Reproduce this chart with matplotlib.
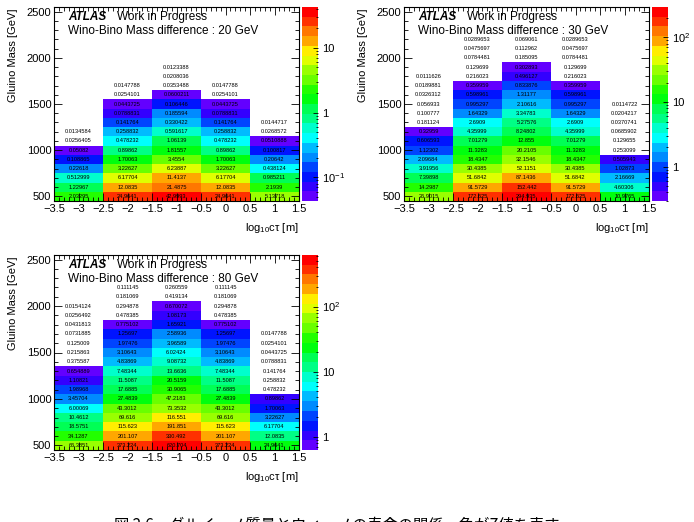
import colorsys
import numpy as np
import matplotlib
matplotlib.use('Agg')
import matplotlib.pyplot as plt
from matplotlib.colors import ListedColormap, LogNorm
from matplotlib.ticker import MultipleLocator, LogLocator, FuncFormatter, NullFormatter

plt.rcParams['font.family'] = ['Liberation Sans', 'Noto Sans CJK JP', 'DejaVu Sans']
plt.rcParams['mathtext.fontset'] = 'custom'
plt.rcParams['mathtext.rm'] = 'Liberation Sans'
plt.rcParams['mathtext.it'] = 'Liberation Sans:italic'

W, H = 694, 522

###===========================================================
# grid : log10(ctau) points -3..1 and gluino mass points 500..2500 (step 100)
ctau_points = [-3, -2, -1, 0, 1]
mass_points = np.arange(500, 2600, 100)

# bin contents, listed from the 500 GeV row upwards, one list per ctau column
# Wino-Bino mass difference 20 GeV
dm20_col1 = [2.03295, 1.22967, 0.512999, 0.22618, 0.108865, 0.05082, 0.0256405, 0.0134584]
dm20_col2 = [24.9641, 12.0835, 6.17704, 3.22627, 1.70063, 0.89862, 0.478232, 0.258832,
             0.141764, 0.0788831, 0.0443725, 0.0254101, 0.0147788]
dm20_col3 = [42.9993, 21.4875, 11.4137, 6.23887, 3.4554, 1.81557, 1.06139, 0.591617,
             0.330422, 0.185594, 0.106446, 0.0600211, 0.0353488, 0.0208036, 0.0123388]
dm20_col4 = dm20_col2
dm20_col5 = [5.13718, 2.1939, 0.985211, 0.438124, 0.20642, 0.100817, 0.0510888, 0.0268572, 0.0144717]

# 30 GeV
dm30_col1 = [26.9015, 14.2987, 7.39898, 3.91956, 2.09684, 1.12302, 0.606593, 0.32959,
             0.181124, 0.100777, 0.056933, 0.0326312, 0.0189881, 0.0111626]
dm30_col2 = [172.625, 91.5729, 51.6842, 30.4385, 18.4347, 11.3283, 7.01279, 4.35999, 2.6909,
             1.64329, 0.995297, 0.598961, 0.359959, 0.216023, 0.129699, 0.0784481, 0.0475697, 0.0289653]
dm30_col3 = [294.935, 152.442, 87.1436, 52.1151, 32.1546, 20.2105, 12.855, 8.24802, 5.27576,
             3.34783, 2.10616, 1.31177, 0.833876, 0.496127, 0.302893, 0.185095, 0.112962, 0.069061]
dm30_col4 = dm30_col2
dm30_col5 = [10.9765, 4.60306, 2.16669, 1.02873, 0.505943, 0.253099, 0.129655, 0.0685902,
             0.0370741, 0.0204217, 0.0114722]

# 80 GeV
dm80_col1 = [66.3851, 34.1287, 18.5751, 10.4612, 6.00069, 3.45704, 1.98968, 1.10821, 0.654889,
             0.375587, 0.215863, 0.125009, 0.0731885, 0.0431813, 0.0256492, 0.0154124]
dm80_col2 = [373.224, 201.107, 115.623, 69.616, 43.3012, 27.4839, 17.6885, 11.5087, 7.48344,
             4.83869, 3.10643, 1.97476, 1.25697, 0.775102, 0.478385, 0.294878, 0.181069, 0.111145]
dm80_col3 = [620.704, 330.492, 191.851, 116.551, 73.3532, 47.2183, 30.9065, 20.5159, 13.6636,
             9.08732, 6.02424, 3.96589, 2.58936, 1.65921, 1.08173, 0.670072, 0.419134, 0.260559]
dm80_col4 = dm80_col2
dm80_col5 = dm20_col2

panels = [
    ('20', [dm20_col1, dm20_col2, dm20_col3, dm20_col4, dm20_col5], (54, 7, 299, 201)),
    ('30', [dm30_col1, dm30_col2, dm30_col3, dm30_col4, dm30_col5], (404, 7, 649, 201)),
    ('80', [dm80_col1, dm80_col2, dm80_col3, dm80_col4, dm80_col5], (54, 255, 299, 450)),
]

###===========================================================
# ROOT "pretty palette" (hue 280 -> 0) sampled on 20 contour levels
ncont = 20
pal = []
for i in range(ncont):
    k = int((i + 0.99) * 50 / ncont)
    hue = 280 - (k + 1) * 5.6
    pal.append(colorsys.hls_to_rgb(hue / 360., 0.5, 1.0))
cmap = ListedColormap(pal)
cmap.set_under((1, 1, 1, 0))
cmap.set_bad((1, 1, 1, 0))

# bin edges halfway between the grid points
ctau_edges = np.append(np.array(ctau_points) - 0.5, ctau_points[-1] + 0.5)
mass_edges = np.append(mass_points - 50, mass_points[-1] + 50)


def rect(x0, y0, x1, y1):
    return [x0 / W, 1 - y1 / H, (x1 - x0) / W, (y1 - y0) / H]


def cbar_label(v, pos):
    e = int(round(np.log10(v)))
    if e == 0:
        return '1'
    if e == 1:
        return '10'
    return r'$\mathregular{10^{%d}}$' % e


fig = plt.figure(figsize=(W / 100., H / 100.), dpi=100)

for dm, cols, (x0, y0, x1, y1) in panels:
    z = np.zeros((len(mass_points), len(ctau_points)))
    for j, col in enumerate(cols):
        z[:len(col), j] = col
    zmax = z.max()
    norm = LogNorm(vmin=zmax / 1000., vmax=zmax)

    ax = fig.add_axes(rect(x0, y0, x1, y1))
    mesh = ax.pcolormesh(ctau_edges, mass_edges, np.ma.masked_equal(z, 0), cmap=cmap, norm=norm)

    for j, xc in enumerate(ctau_points):
        for i, yc in enumerate(mass_points):
            if z[i, j] > 0:
                ax.text(xc, yc, '%g' % z[i, j], ha='center', va='center',
                        fontsize=4.1, color='black')

    ax.set_xlim(ctau_edges[0], ctau_edges[-1])
    ax.set_ylim(mass_edges[0], mass_edges[-1])
    ax.xaxis.set_major_locator(MultipleLocator(0.5))
    ax.xaxis.set_minor_locator(MultipleLocator(0.1))
    ax.yaxis.set_major_locator(MultipleLocator(500))
    ax.yaxis.set_minor_locator(MultipleLocator(100))
    ax.xaxis.set_major_formatter(FuncFormatter(lambda v, p: ('%g' % v).replace('-', '\u2212')))
    ax.tick_params(which='both', direction='in', top=True, right=True, labelsize=8, width=0.6)
    ax.tick_params(which='major', length=5.5, pad=2)
    ax.tick_params(which='minor', length=2.7)
    for s in ax.spines.values():
        s.set_linewidth(0.8)

    fig.text(x1 / W, 1 - (y1 + 27) / H, r'log$_{10}$c' + '\u03c4 [m]', ha='right', va='center',
             fontsize=8)
    fig.text((x0 - 41) / W, 1 - (y0 + 2) / H, 'Gluino Mass [GeV]', rotation=90, ha='center',
             va='top', fontsize=8)

    fig.text((x0 + 14) / W, 1 - (y0 + 10) / H, 'ATLAS', weight='bold', style='italic',
             ha='left', va='center', fontsize=8.5)
    fig.text((x0 + 63) / W, 1 - (y0 + 10) / H, 'Work in Progress', ha='left', va='center',
             fontsize=8.5)
    fig.text((x0 + 14) / W, 1 - (y0 + 24) / H, 'Wino-Bino Mass difference : %s GeV' % dm,
             ha='left', va='center', fontsize=8.5)

    cax = fig.add_axes(rect(x1 + 3, y0, x1 + 19, y1))
    cb = fig.colorbar(mesh, cax=cax)
    cb.outline.set_visible(False)
    cax.yaxis.set_major_locator(LogLocator(base=10))
    cax.yaxis.set_minor_locator(LogLocator(base=10, subs=np.arange(2, 10)))
    cax.yaxis.set_major_formatter(FuncFormatter(cbar_label))
    cax.yaxis.set_minor_formatter(NullFormatter())
    cax.tick_params(which='both', direction='in', right=True, left=False, labelsize=8, width=0.6)
    cax.tick_params(which='major', length=3.5, pad=3)
    cax.tick_params(which='minor', length=1.8)

fig.text(337 / W, 1 - 517 / H, '図 2.6　グルイーノ質量とウィーノの寿命の関係。色がZ値を表す',
         family=['Noto Sans CJK JP'], ha='center', va='top', fontsize=11)

plt.savefig('out.png', dpi=100)
